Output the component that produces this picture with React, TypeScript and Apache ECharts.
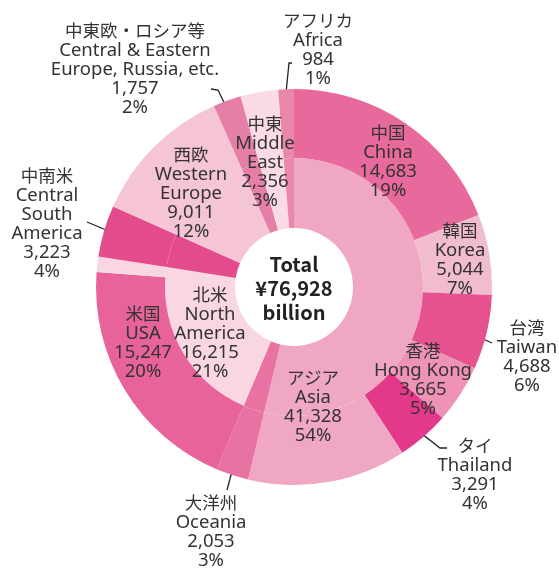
import React, { useEffect, useRef } from "react";
import * as echarts from "echarts";

// ---- data ----
const TOTAL = 76928;
const totalLabel = ["Total", "¥76,928", "billion"];

const regionJa = ["アジア", "大洋州", "北米", "中南米", "西欧", "中東欧・ロシア等", "中東", "アフリカ"];
const regionEn = ["Asia", "Oceania", "North\nAmerica", "Central\nSouth\nAmerica", "Western\nEurope", "Central & Eastern\nEurope, Russia, etc.", "Middle\nEast", "Africa"];
const regionValues = [41328, 2053, 16215, 3223, 9011, 1757, 2356, 984];

const asiaJa = ["中国", "韓国", "台湾", "香港", "タイ"];
const asiaEn = ["China", "Korea", "Taiwan", "Hong Kong", "Thailand"];
const asiaValues = [14683, 5044, 4688, 3665, 3291];

const naJa = ["米国"];
const naEn = ["USA"];
const naValues = [15247];

// ---- styles ----
const regionColors = ["#f0a7c3", "#e872a2", "#f8d6e2", "#e34b8d", "#f5c4d5", "#e67fa7", "#f9dae5", "#ea87ad"];
const asiaColors = ["#e8699b", "#f2bccf", "#e5528e", "#ee93b5", "#e2398a"];
const naColors = ["#e86399"];

// label positions (page px) and leader lines
const regionLabelPos: Record<string, { x: number; y: number; line?: number[][] }> = {
  "アジア": { x: 313, y: 405 },
  "大洋州": { x: 211, y: 530, line: [[239, 445], [227, 490]] },
  "北米": { x: 210, y: 331 },
  "中南米": { x: 47, y: 222, line: [[142, 245], [87, 222]] },
  "西欧": { x: 191, y: 191 },
  "中東欧・ロシア等": { x: 135, y: 67, line: [[232, 119], [218, 90], [211, 89]] },
  "中東": { x: 265, y: 160 },
  "アフリカ": { x: 318, y: 48, line: [[285, 103], [289, 63], [292, 63]] },
};
const countryLabelPos: Record<string, { x: number; y: number; line?: number[][] }> = {
  "中国": { x: 388, y: 160 },
  "韓国": { x: 460, y: 258 },
  "台湾": { x: 527, y: 355, line: [[450, 324], [492, 343]] },
  "香港": { x: 423, y: 378 },
  "タイ": { x: 475, y: 473, line: [[403, 419], [440, 448], [447, 448]] },
  "米国": { x: 143, y: 341 },
};

const CJK = '"Noto Sans CJK JP", sans-serif';
const LATIN = '"Noto Sans", "Noto Sans CJK JP", sans-serif';
const TEXT = "#333333";

const fmt = (v: number) => v.toLocaleString("en-US");
const pct = (v: number) => Math.round((v / TOTAL) * 100) + "%";

export default function App() {
  const ref = useRef<HTMLDivElement>(null);
  useEffect(() => {
    if (!ref.current) return;
    const chart = echarts.init(ref.current, null, { renderer: "svg" });

    const innerData = regionValues.map((v, i) => ({
      name: regionJa[i],
      value: v,
      en: regionEn[i],
      itemStyle: { color: regionColors[i] },
      labelLine: { show: !!regionLabelPos[regionJa[i]].line },
    }));

    const asiaRest = regionValues[0] - asiaValues.reduce((a, b) => a + b, 0);
    const naRest = regionValues[2] - naValues.reduce((a, b) => a + b, 0);

    const outerData: any[] = [];
    asiaValues.forEach((v, i) =>
      outerData.push({
        name: asiaJa[i], value: v, en: asiaEn[i],
        itemStyle: { color: asiaColors[i] },
        labelLine: { show: !!countryLabelPos[asiaJa[i]].line },
      })
    );
    outerData.push({ name: "アジアその他", value: asiaRest, itemStyle: { color: regionColors[0] }, label: { show: false }, labelLine: { show: false } });
    outerData.push({ name: "大洋州", value: regionValues[1], itemStyle: { color: regionColors[1] }, label: { show: false }, labelLine: { show: false } });
    naValues.forEach((v, i) =>
      outerData.push({
        name: naJa[i], value: v, en: naEn[i],
        itemStyle: { color: naColors[i] },
        labelLine: { show: false },
      })
    );
    outerData.push({ name: "北米その他", value: naRest, itemStyle: { color: regionColors[2] }, label: { show: false }, labelLine: { show: false } });
    for (let i = 3; i < regionValues.length; i++) {
      outerData.push({ name: regionJa[i], value: regionValues[i], itemStyle: { color: regionColors[i] }, label: { show: false }, labelLine: { show: false } });
    }

    const labelStyle = {
      show: true,
      position: "outside",
      color: TEXT,
      fontFamily: LATIN,
      fontSize: 18.5,
      lineHeight: 19,
      width: 220,
      align: "center",
      rich: {
        ja: { fontFamily: CJK, fontSize: 17.5, lineHeight: 19, color: TEXT, align: "center" },
        en: { fontFamily: LATIN, fontSize: 18.5, lineHeight: 19, color: TEXT, align: "center" },
      },
      formatter: (p: any) => {
        const lines = [`{ja|${p.name}}`];
        String(p.data.en).split("\n").forEach((l) => lines.push(`{en|${l}}`));
        lines.push(`{en|${fmt(p.value)}}`);
        lines.push(`{en|${pct(p.value)}}`);
        return lines.join("\n");
      },
    };
    const lineStyle = { color: "#222222", width: 1.3 };

    const makeLayout = (data: any[], pos: Record<string, any>) => (params: any) => {
      const d = data[params.dataIndex];
      const p = pos[d.name];
      if (!p || (d.label && d.label.show === false)) return {};
      const out: any = { x: p.x, y: p.y, align: "center", verticalAlign: "middle" };
      if (p.line) out.labelLinePoints = p.line;
      return out;
    };

    chart.setOption({
      animation: false,
      series: [
        {
          type: "pie",
          center: [294, 287],
          radius: [59, 129],
          startAngle: 90,
          clockwise: true,
          avoidLabelOverlap: false,
          silent: true,
          data: innerData,
          label: labelStyle,
          labelLine: { show: true, lineStyle },
          labelLayout: makeLayout(innerData, regionLabelPos),
        },
        {
          type: "pie",
          center: [294, 287],
          radius: [129, 198],
          startAngle: 90,
          clockwise: true,
          avoidLabelOverlap: false,
          silent: true,
          data: outerData,
          label: labelStyle,
          labelLine: { show: true, lineStyle },
          labelLayout: makeLayout(outerData, countryLabelPos),
        },
      ],
      graphic: [
        {
          type: "text",
          x: 294,
          y: 287,
          style: {
            text: totalLabel.join("\n"),
            fill: "#222222",
            font: `bold 20px ${CJK}`,
            lineHeight: 24,
            align: "center",
            verticalAlign: "middle",
          },
        },
      ],
    });
    return () => chart.dispose();
  }, []);
  return <div ref={ref} style={{ position: "fixed", left: 0, top: 0, width: 559, height: 571 }} />;
}
